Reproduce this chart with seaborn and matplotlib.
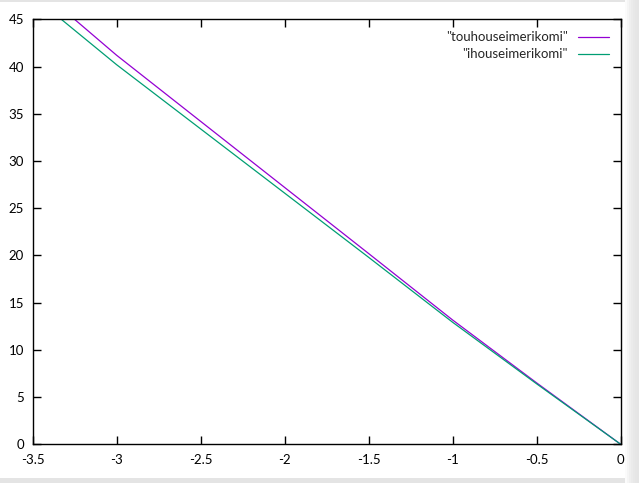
import matplotlib
matplotlib.use("Agg")
import matplotlib.pyplot as plt
import seaborn as sns
import pandas as pd
from matplotlib.patches import Rectangle

x_vals = [0.0, -0.5, -1.0, -1.5, -2.0, -2.5, -3.0, -3.5]
touhou_vals = [0.0, 6.5, 13.16, 20.2, 27.2, 34.2, 41.2, 48.8]
ihou_vals = [0.0, 6.4, 12.92, 19.8, 26.6, 33.4, 40.2, 47.5]
series_names = ['"touhouseimerikomi"', '"ihouseimerikomi"']
series_colors = ["#9400d3", "#009e73"]
x_ticks = [-3.5, -3, -2.5, -2, -1.5, -1, -0.5, 0]
x_tick_labels = ["-3.5", "-3", "-2.5", "-2", "-1.5", "-1", "-0.5", "0"]
y_ticks = [0, 5, 10, 15, 20, 25, 30, 35, 40, 45]

df = pd.concat([
    pd.DataFrame({"x": x_vals, "y": touhou_vals, "series": series_names[0]}),
    pd.DataFrame({"x": x_vals, "y": ihou_vals, "series": series_names[1]}),
])

sns.set_style("white")
plt.rcParams["font.family"] = ["Lato", "DejaVu Sans"]

fig = plt.figure(figsize=(6.39, 4.83), dpi=100)
ax = fig.add_axes([32.5 / 639, 1 - 444.3 / 483, (620.7 - 32.5) / 639, (444.3 - 19.3) / 483])

sns.lineplot(data=df, x="x", y="y", hue="series", hue_order=series_names,
             palette=series_colors, ax=ax, linewidth=0.9, sort=False)

ax.set_xlim(-3.5, 0)
ax.set_ylim(0, 45)
ax.set_xticks(x_ticks)
ax.set_xticklabels(x_tick_labels)
ax.set_yticks(y_ticks)
ax.set_xlabel("")
ax.set_ylabel("")
for s in ax.spines.values():
    s.set_visible(True)
    s.set_color("black")
    s.set_linewidth(1.0)
ax.tick_params(direction="in", length=6, width=1, colors="black", labelsize=9.5,
               top=True, right=True, bottom=True, left=True, pad=7)
ax.tick_params(axis="y", pad=6)

fs = 9.5
px = fs * 100 / 72
leg = ax.legend(loc="upper right", frameon=False, markerfirst=False, fontsize=fs,
                handlelength=31 / px, handletextpad=10 / px, labelspacing=0.38,
                borderaxespad=0.5, borderpad=0.4)

# screenshot frame (grey edges)
fig.patches.append(Rectangle((0, 0), 1, 5 / 483, transform=fig.transFigure,
                             facecolor="#e4e4e4", edgecolor="none", zorder=-1))
fig.patches.append(Rectangle((0, 1 - 2 / 483), 1, 2 / 483, transform=fig.transFigure,
                             facecolor="#e4e4e4", edgecolor="none", zorder=-1))
shades = ["#fbfbfb", "#f5f5f5", "#efefef", "#ebebeb", "#e8e8e8", "#e6e6e6", "#e5e5e5"]
for i, c in enumerate(shades):
    fig.patches.append(Rectangle(((625 + i * 2) / 639, 0), 2.2 / 639, 1, transform=fig.transFigure,
                                 facecolor=c, edgecolor="none", zorder=-1))

fig.savefig("out.png", dpi=100)
